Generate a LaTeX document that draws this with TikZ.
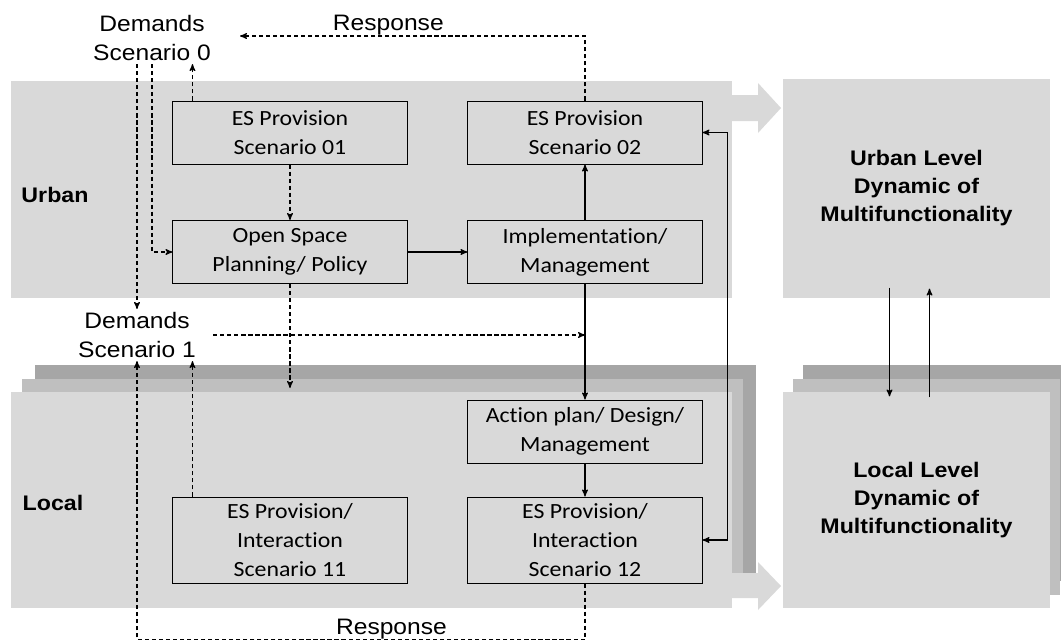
\documentclass[tikz,border=0pt]{standalone}
\usepackage{fontspec}
\setmainfont[FakeStretch=1.1]{Liberation Sans}
\newfontfamily\boxfont[FakeStretch=1.1, Ligatures=NoCommon]{Carlito}
\usepackage{tikz}
\usetikzlibrary{arrows,calc,shadows}
\definecolor{bandgray}{HTML}{D9D9D9}
\definecolor{midgray}{HTML}{BFBFBF}
\definecolor{backgray}{HTML}{A6A6A6}

\begin{document}
\begin{tikzpicture}[x=0.025cm, y=-0.025cm,
                    >=stealth',
                    line width=0.8pt,
                    box/.style = {draw=black, line width=0.7pt, fill=bandgray, align=center,
                                  minimum width=5.85cm, minimum height=1.575cm, inner sep=0pt,
                                  font=\boxfont\fontsize{15.4}{20.6}\selectfont},
                    tallbox/.style = {box, minimum height=2.15cm},
                    band/.style = {fill=bandgray, inner sep=0pt},
                    lab/.style = {align=center, inner sep=2pt, font=\fontsize{15.9}{20.6}\selectfont},
                    tag/.style = {font=\bfseries\fontsize{15}{18}\selectfont},
                    big/.style = {align=center, font=\bfseries\fontsize{15}{19.9}\selectfont},
                    dsh/.style = {dash pattern=on 3pt off 2pt}
                    ]
\tikzset{
  stackL/.style={general shadow={fill=backgray, shadow xshift=0.6cm, shadow yshift=0.675cm},
                 general shadow={fill=midgray, shadow xshift=0.275cm, shadow yshift=0.325cm}},
  stackR/.style={general shadow={fill=backgray, shadow xshift=0.5cm, shadow yshift=0.675cm},
                 general shadow={fill=midgray, shadow xshift=0.25cm, shadow yshift=0.325cm}},
}
\useasboundingbox (0,0) rectangle (1061,641);

% levels
\node[band, minimum width=18.025cm, minimum height=5.425cm] (urban) at (371.5,189.5) {};
\node[band, stackL, minimum width=18.025cm, minimum height=5.4cm] (local) at (371.5,500) {};
\node[band, big, minimum width=6.675cm, minimum height=5.475cm] (ulevel) at (916.5,188.5)
     {Urban Level\\Dynamic of\\Multifunctionality};
\node[band, big, stackR, minimum width=6.675cm, minimum height=5.4cm] (llevel) at (916.5,500)
     {Local Level\\Dynamic of\\Multifunctionality};

% big gray arrows
\fill[bandgray] (732,95) -- (758,95) -- (758,83) -- (781,108) -- (758,133) -- (758,121) -- (732,121) -- cycle;
\fill[bandgray] (732,573) -- (758,573) -- (758,562) -- (781,586) -- (758,610) -- (758,598) -- (732,598) -- cycle;

\node[tag] (urb) at (55,195) {Urban};
\node[tag] (loc) at (53,503) {Local};

\node[lab] (dem0) at (152,38) {Demands\\Scenario 0};
\node[lab] (dem1) at (137,335) {Demands\\Scenario 1};
\coordinate (r0) at (240,36);

\node[box] (es01) at (290,132.5) {ES Provision\\Scenario 01};
\node[box] (es02) at (585,132.5) {ES Provision\\Scenario 02};
\node[box] (osp)  at (290,252)   {Open Space\\Planning/ Policy};
\node[box] (impl) at (585,252)   {Implementation/\\Management};
\node[box] (act)  at (585,431.5) {Action plan/ Design/\\Management};
\node[tallbox] (es11) at (290,540) {ES Provision/\\Interaction\\Scenario 11};
\node[tallbox] (es12) at (585,540) {ES Provision/\\Interaction\\Scenario 12};

\path[->]
    (es01.south) edge[dsh] (osp.north)
    (osp.east)   edge      (impl.west)
    (impl.north) edge      (es02.south)
    (impl.south) edge      (act.north)
    (act.south)  edge      (es12.north);

\draw[dsh,->] (dem1.north |- dem0.south) -- (dem1.north);
\draw[dsh,->] (dem0.south) |- (osp.west);
\draw[dsh,->] ($(es01.north west)+(20,0)$) coordinate (u0) -- (u0 |- dem0.south);
\draw[dsh,->] (es02.north) |- node[lab, pos=0.785, above, inner sep=0pt] {Response} (r0);
\draw[dsh,->, shorten <=0.35cm] (dem1.east) -- (dem1.east -| impl.south);
\draw[dsh,->] (osp.south) -- ++(0,104) coordinate (d1);
\draw[dsh,->] ($(es11.north west)+(20,0)$) coordinate (u1) -- (u1 |- dem1.south);
\draw[dsh,->] (es12.south) -- ++(0,56) -| node[lab, pos=0.216, above, inner sep=0pt] {Response} (dem1.south);
\draw[<->] (es02.east) -- ++(25,0) |- (es12.east);

\draw[->] ($(ulevel.south)+(-27,-11)$) -- ($(llevel.north)+(-27,5)$);
\draw[->] ($(llevel.north)+(13,6)$) -- ($(ulevel.south)+(13,-10)$);
\end{tikzpicture}
\end{document}
